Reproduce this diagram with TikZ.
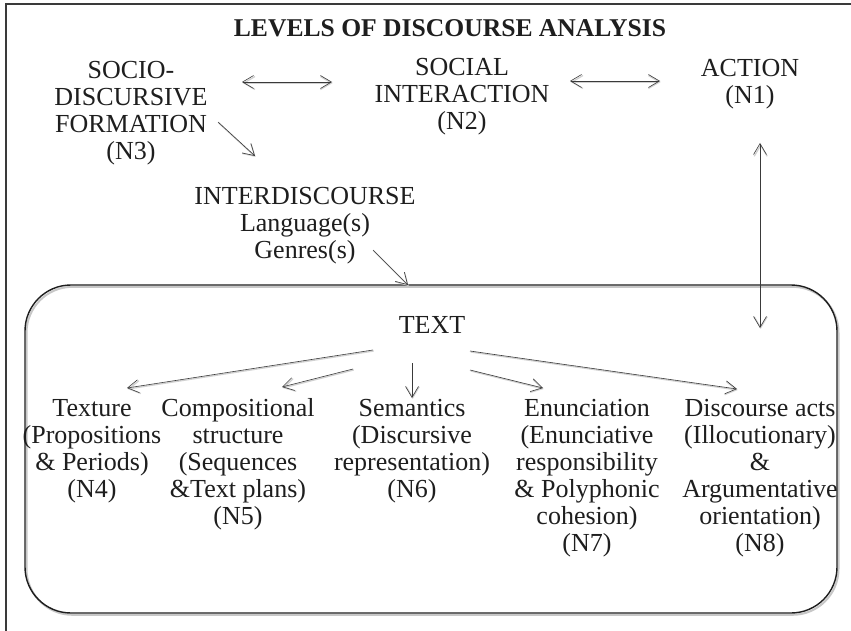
\documentclass[tikz,border=0pt]{standalone}
\usepackage{fontspec}
\setmainfont{Liberation Serif}
\usetikzlibrary{arrows.meta}
\definecolor{ink}{HTML}{1E1E1E}
\definecolor{lineink}{HTML}{3A3A3A}
\begin{document}
\begin{tikzpicture}[x=1pt,y=-1pt,
  lbl/.style={align=center,inner sep=0pt,font=\fontsize{26}{27}\selectfont,text=ink},
  ttl/.style={inner sep=0pt,font=\fontsize{25.6}{27}\selectfont\bfseries,text=ink},
  arrowshadow/.style={preaction={draw=black!18,line width=1.3pt,transform canvas={shift={(0.7pt,-1pt)}}}},
  arr/.style={draw=lineink,line width=0.6pt,-{Straight Barb[length=11pt,width=13pt]},arrowshadow},
  darr/.style={draw=lineink,line width=0.6pt,{Straight Barb[length=11pt,width=13pt]}-{Straight Barb[length=11pt,width=13pt]},arrowshadow},
  frameline/.style={draw=lineink,line width=1.3pt},
  textbox/.style={draw=ink,line width=1.4pt,rounded corners=46pt,preaction={draw=black!22,line width=2pt,transform canvas={shift={(1.5pt,-1.8pt)}}}}
]
\useasboundingbox (0,0) rectangle (851,631);
\fill[white] (0,0) rectangle (851,631);
% outer frame (extends past the page on the right and bottom)
\draw[frameline] (6,4) rectangle (880,660);
% text box
\draw[textbox] (25,285) rectangle (837,613);

\node[ttl] (title) at (450,28) {LEVELS OF DISCOURSE ANALYSIS};
\node[lbl] (n3) at (131,113) {SOCIO-\\DISCURSIVE\\FORMATION\\(N3)};
\node[lbl] (n2) at (462,97) {SOCIAL\\INTERACTION\\(N2)};
\node[lbl] (n1) at (750,84) {ACTION\\(N1)};
\node[lbl] (inter) at (305,226) {INTERDISCOURSE\\Language(s)\\Genres(s)};
\node[lbl] (text) at (432,325) {TEXT};
\node[lbl] (n4) at (92,451) {Texture\\(Propositions\\\&~Periods)\\(N4)};
\node[lbl] (n5) at (238,464) {Compositional\\structure\\(Sequences\\\&Text plans)\\(N5)};
\node[lbl] (n6) at (412,451) {Semantics\\(Discursive\\representation)\\(N6)};
\node[lbl] (n7) at (587,478) {Enunciation\\(Enunciative\\responsibility\\\&~Polyphonic\\cohesion)\\(N7)};
\node[lbl] (n8) at (760,478) {Discourse acts\\(Illocutionary)\\\&\\Argumentative\\orientation)\\(N8)};

% connector end points
\coordinate (a32s) at (242,82);  \coordinate (a32e) at (332,82);
\coordinate (a21s) at (570,81);  \coordinate (a21e) at (660,81);
\coordinate (a3is) at (218,122); \coordinate (a3ie) at (255,156);
\coordinate (aits) at (373,250); \coordinate (aite) at (408,285);
\coordinate (a1ts) at (760,143); \coordinate (a1te) at (760,328);
\coordinate (t4s) at (373,350);  \coordinate (t4e) at (127,388);
\coordinate (t5s) at (353,369);  \coordinate (t5e) at (282,387);
\coordinate (t6s) at (412,363);  \coordinate (t6e) at (412,398);
\coordinate (t7s) at (470,370);  \coordinate (t7e) at (543,388);
\coordinate (t8s) at (470,351);  \coordinate (t8e) at (737,389);

\draw[darr] (a32s) -- (a32e);
\draw[darr] (a21s) -- (a21e);
\draw[arr] (a3is) -- (a3ie);
\draw[arr] (aits) -- (aite);
\draw[darr] (a1ts) -- (a1te);
\draw[arr] (t4s) -- (t4e);
\draw[arr] (t5s) -- (t5e);
\draw[arr] (t6s) -- (t6e);
\draw[arr] (t7s) -- (t7e);
\draw[arr] (t8s) -- (t8e);
\end{tikzpicture}
\end{document}
